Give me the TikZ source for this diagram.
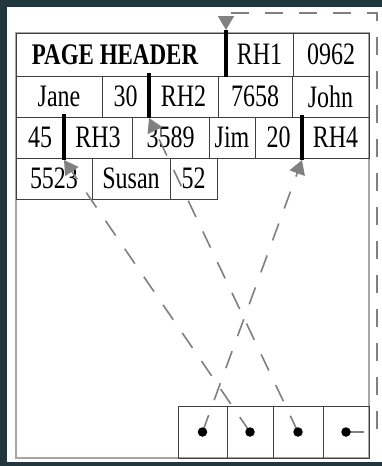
\documentclass[tikz,border=0pt]{standalone}
\usepackage{fontspec}
\setmainfont{Liberation Serif}
\usetikzlibrary{arrows.meta}
\definecolor{bgdark}{HTML}{22363D}
\definecolor{ptrgray}{HTML}{808080}
\newcommand\vs[1]{\scalebox{1}[1.3]{#1}}
\begin{document}
\begin{tikzpicture}[x=1pt,y=-1pt,
  cell/.style={draw=black!75, line width=0.9pt, inner sep=0pt, font=\fontsize{24}{28}\selectfont},
  slotbox/.style={draw=black!75, line width=0.9pt, inner sep=0pt, minimum height=52pt},
  dotn/.style={circle, fill=black, inner sep=0pt, minimum size=9.5pt},
  bar/.style={line width=3.5pt, black},
  ptr/.style={draw=ptrgray, line width=1.6pt, dash pattern=on 18pt off 16pt,
    -{Triangle[width=16pt,length=14pt,fill=ptrgray,sep=0pt]}}]
\useasboundingbox (0,0) rectangle (382,466);
\fill[bgdark] (0,0) rectangle (382,466);
\fill[white] (7,7) rectangle (382,462);
% page outline
\draw[gray!70, line width=1.5pt] (16,33) rectangle (369,458);
% row 1
\node[cell, minimum width=210pt, minimum height=43pt, font=\fontsize{23}{27}\selectfont\bfseries] (ph) at (121,54.5) {\hspace*{-12pt}\vs{PAGE HEADER}};
\node[cell, minimum width=67pt, minimum height=43pt] (rh1) at (259.5,54.5) {\vs{RH1}};
\node[cell, minimum width=76pt, minimum height=43pt] (n0962) at (331,54.5) {\vs{0962}};
% row 2
\node[cell, minimum width=86pt, minimum height=41pt] (jane) at (59,96.5) {\vs{Jane}};
\node[cell, minimum width=47pt, minimum height=41pt] (n30) at (125.5,96.5) {\vs{30}};
\node[cell, minimum width=69pt, minimum height=41pt] (rh2) at (183.5,96.5) {\vs{RH2}};
\node[cell, minimum width=74pt, minimum height=41pt] (n7658) at (255,96.5) {\vs{7658}};
\node[cell, minimum width=77pt, minimum height=41pt] (john) at (330.5,96.5) {\vs{John}};
% row 3
\node[cell, minimum width=48pt, minimum height=41pt] (n45) at (40,137.5) {\vs{45}};
\node[cell, minimum width=68pt, minimum height=41pt] (rh3) at (98,137.5) {\vs{RH3}};
\node[cell, minimum width=77pt, minimum height=41pt] (n3589) at (170.5,137.5) {\vs{3589}};
\node[cell, minimum width=46pt, minimum height=41pt] (jim) at (232,137.5) {\vs{Jim}};
\node[cell, minimum width=47pt, minimum height=41pt] (n20) at (278.5,137.5) {\vs{20}};
\node[cell, minimum width=67pt, minimum height=41pt] (rh4) at (335.5,137.5) {\vs{RH4}};
% row 4
\node[cell, minimum width=76pt, minimum height=41pt] (n5523) at (54,178.5) {\vs{5523}};
\node[cell, minimum width=78pt, minimum height=41pt] (susan) at (131,178.5) {\vs{Susan}};
\node[cell, minimum width=47pt, minimum height=41pt] (n52) at (193.5,178.5) {\vs{52}};
% slot array
\node[slotbox, minimum width=49pt] (s1) at (202.5,432) {};
\node[slotbox, minimum width=46pt] (s2) at (250,432) {};
\node[slotbox, minimum width=50pt] (s3) at (298,432) {};
\node[slotbox, minimum width=46pt] (s4) at (346,432) {};
% record header bars
\coordinate (b1t) at (226,30); \coordinate (b1b) at (226,77);
\coordinate (b2t) at (149,73); \coordinate (b2b) at (149,118);
\coordinate (b3t) at (64,114); \coordinate (b3b) at (64,160);
\coordinate (b4t) at (302,115); \coordinate (b4b) at (302,160);
\draw[bar] (b1t) -- (b1b);
\draw[bar] (b2t) -- (b2b);
\draw[bar] (b3t) -- (b3b);
\draw[bar] (b4t) -- (b4b);
% pointers
\coordinate (k1) at (377,432);
\coordinate (k2) at (377,13);
\coordinate (k3) at (226,13);
\draw[ptr] (s1.center) -- (b4b);
\draw[ptr] (s2.center) -- (b3b);
\draw[ptr] (s3.center) -- (b2b);
\draw[ptr] (s4.center) -- (k1) -- (k2) -- (k3) -- (b1t);
\node[dotn] (d1) at (s1.center) {};
\node[dotn] (d2) at (s2.center) {};
\node[dotn] (d3) at (s3.center) {};
\node[dotn] (d4) at (s4.center) {};
\end{tikzpicture}
\end{document}
